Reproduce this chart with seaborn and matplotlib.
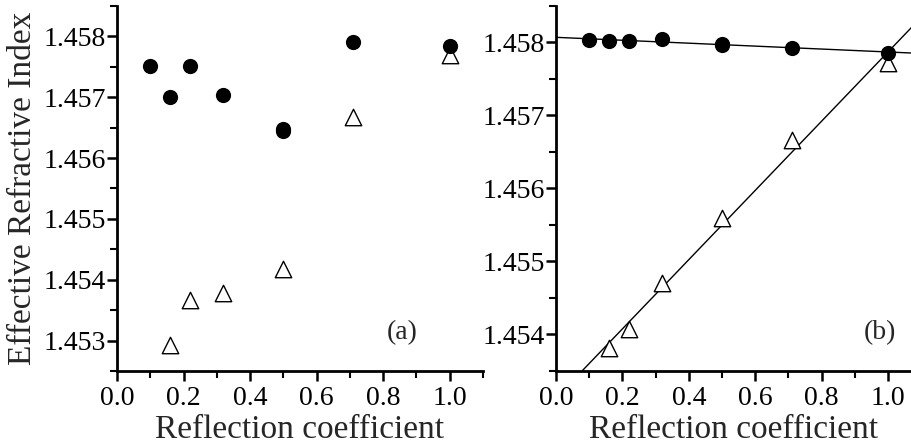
import numpy as np
import pandas as pd
import matplotlib
matplotlib.use("Agg")
import matplotlib.pyplot as plt
import seaborn as sns
from matplotlib.ticker import MultipleLocator, FormatStrFormatter

# data
x_a_circ = [0.10, 0.16, 0.22, 0.32, 0.50, 0.50, 0.71, 1.00]
y_a_circ = [1.45752, 1.45700, 1.45751, 1.45703, 1.45645, 1.45648, 1.45791, 1.45784]
x_a_tri = [0.16, 0.22, 0.32, 0.50, 0.71, 1.00]
y_a_tri = [1.45292, 1.45366, 1.45378, 1.45418, 1.45668, 1.45770]

x_b_circ = [0.10, 0.16, 0.22, 0.32, 0.50, 0.50, 0.71, 1.00]
y_b_circ = [1.45804, 1.45802, 1.45802, 1.45805, 1.45796, 1.45798, 1.45793, 1.45786]
x_b_tri = [0.16, 0.22, 0.32, 0.50, 0.71, 1.00]
y_b_tri = [1.45382, 1.45407, 1.45470, 1.45560, 1.45666, 1.45772]

xticks = [0.0, 0.2, 0.4, 0.6, 0.8, 1.0]

sns.set_style("ticks")
plt.rcParams["font.family"] = ["Liberation Serif", "DejaVu Serif"]

fig = plt.figure(figsize=(9.12, 4.46), dpi=100)
ax_a = fig.add_axes([0.1283, 0.1682, 0.4013, 0.8184])
ax_b = fig.add_axes([0.6096, 0.1682, 0.3904, 0.8184])


def style_axes(ax):
    for side in ["top", "right"]:
        ax.spines[side].set_visible(False)
    for side in ["left", "bottom"]:
        ax.spines[side].set_linewidth(2.0)
        ax.spines[side].set_color("black")
    ax.set_xticks(xticks)
    ax.xaxis.set_minor_locator(MultipleLocator(0.1))
    ax.yaxis.set_major_locator(MultipleLocator(0.001))
    ax.yaxis.set_minor_locator(MultipleLocator(0.0005))
    ax.xaxis.set_major_formatter(FormatStrFormatter("%.1f"))
    ax.yaxis.set_major_formatter(FormatStrFormatter("%.3f"))
    ax.tick_params(which="major", direction="out", length=7, width=1.8,
                   labelsize=20, colors="black")
    ax.tick_params(which="minor", direction="out", length=5, width=1.5, colors="black")
    ax.tick_params(axis="x", which="major", pad=4)
    ax.tick_params(axis="y", which="major", pad=1)
    ax.set_xlabel("Reflection coefficient", fontsize=24, labelpad=2)


circ_kw = dict(marker="o", s=120, color="black", edgecolor="black", linewidth=0)
tri_kw = dict(marker="^", s=140, facecolor="white", edgecolor="black", linewidth=1.0)

# panel (a)
ax_a.set_xlim(0, 1.10)
ax_a.set_ylim(1.4525, 1.4585)
sns.scatterplot(x=x_a_tri, y=y_a_tri, ax=ax_a, zorder=3, **tri_kw)
sns.scatterplot(x=x_a_circ, y=y_a_circ, ax=ax_a, zorder=4, **circ_kw)
style_axes(ax_a)
ax_a.set_ylabel("Effective Refractive Index", fontsize=24, labelpad=4)
ax_a.text(0.856, 1.45313, "(a)", fontsize=20, ha="center", va="center")

# panel (b)
ax_b.set_xlim(0, 1.072)
ax_b.set_ylim(1.4535, 1.4585)
sns.regplot(x=np.array(x_b_circ), y=np.array(y_b_circ), ax=ax_b, scatter=False,
            ci=None, truncate=False, color="black", line_kws=dict(linewidth=1.0))
sns.regplot(x=np.array(x_b_tri), y=np.array(y_b_tri), ax=ax_b, scatter=False,
            ci=None, truncate=False, color="black", line_kws=dict(linewidth=1.0))
sns.scatterplot(x=x_b_tri, y=y_b_tri, ax=ax_b, zorder=3, **tri_kw)
sns.scatterplot(x=x_b_circ, y=y_b_circ, ax=ax_b, zorder=4, **circ_kw)
ax_b.set_xlim(0, 1.072)
ax_b.set_ylim(1.4535, 1.4585)
style_axes(ax_b)
ax_b.set_ylabel("")
ax_b.text(0.976, 1.45402, "(b)", fontsize=20, ha="center", va="center")

for ax in (ax_a, ax_b):
    for c in ax.collections:
        c.set_clip_on(False)

fig.savefig("out.png", dpi=100)
